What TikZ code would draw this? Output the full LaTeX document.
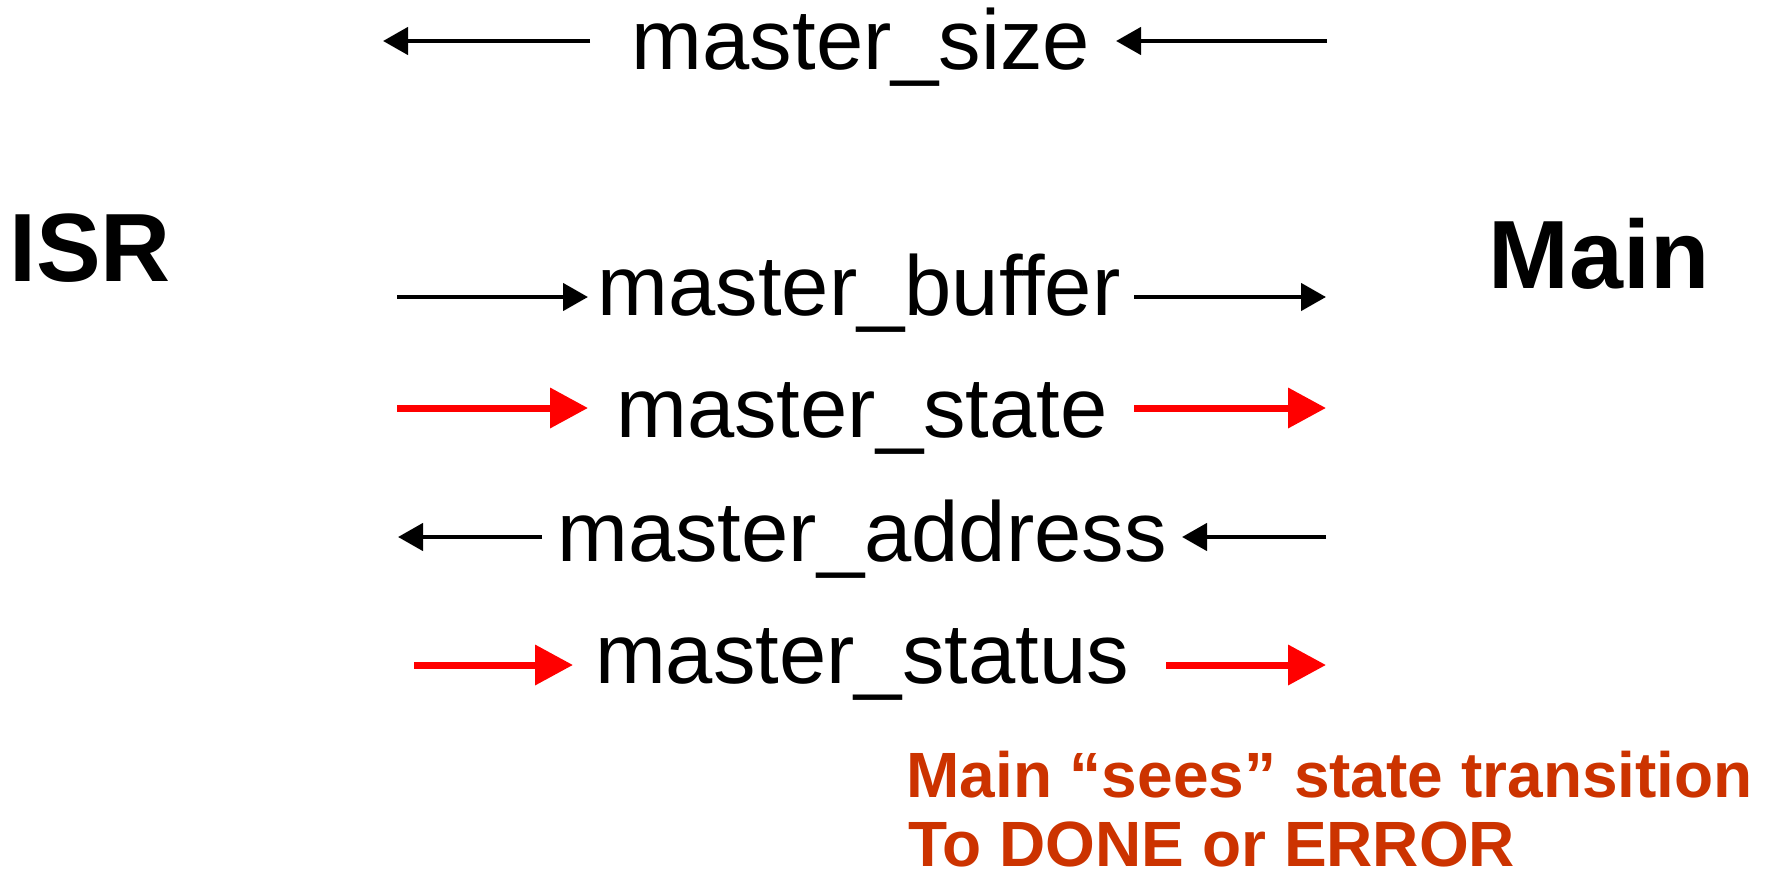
\documentclass[tikz,border=0pt]{standalone}
\usepackage{fontspec}
\setmainfont{Liberation Sans}
\usetikzlibrary{arrows.meta}
\definecolor{notered}{RGB}{204,51,0}
\begin{document}
\begin{tikzpicture}[x=0.5pt,y=-0.5pt,
  lbl/.style={inner sep=0pt,anchor=base,font=\fontsize{42.5pt}{48pt}\selectfont},
  side/.style={inner sep=0pt,anchor=base,font=\fontsize{48.5pt}{54pt}\selectfont\bfseries},
  note/.style={inner sep=0pt,anchor=base west,text=notered,font=\fontsize{32pt}{38pt}\selectfont\bfseries},
  blk/.style={line width=2.25pt,-{Triangle[length=12.5pt,width=13.5pt]}},
  redarr/.style={red,line width=3.5pt,-{Triangle[length=19pt,width=19.5pt]}}]
\useasboundingbox (0,0) rectangle (1777,878);
% side labels
\node[side] (isr) at (90,281) {ISR};
\node[side] (main) at (1599,288) {Main};
% variable labels
\node[lbl] (size) at (861,69) {master\_size};
\node[lbl] (buffer) at (859,315) {master\_buffer};
\node[lbl] (state) at (862,437) {master\_state};
\node[lbl] (address) at (862,561) {master\_address};
\node[lbl] (status) at (862,683) {master\_status};
% note
\node[note] (note1) at (906,797) {Main “sees” state transition};
\node[note] (note2) at (908,866) {To DONE or ERROR};
% arrow end points
\coordinate (sizeLa) at (590,41);  \coordinate (sizeLb) at (383,41);
\coordinate (sizeRa) at (1327,41); \coordinate (sizeRb) at (1116,41);
\coordinate (bufLa) at (397,297);  \coordinate (bufLb) at (588,297);
\coordinate (bufRa) at (1134,297); \coordinate (bufRb) at (1326,297);
\coordinate (stLa) at (397,408);   \coordinate (stLb) at (588,408);
\coordinate (stRa) at (1134,408);  \coordinate (stRb) at (1326,408);
\coordinate (adLa) at (542,537);   \coordinate (adLb) at (398,537);
\coordinate (adRa) at (1326,537);  \coordinate (adRb) at (1182,537);
\coordinate (stsLa) at (414,665);  \coordinate (stsLb) at (573,665);
\coordinate (stsRa) at (1166,665); \coordinate (stsRb) at (1326,665);
% arrows
\draw[blk] (sizeLa) -- (sizeLb);
\draw[blk] (sizeRa) -- (sizeRb);
\draw[blk] (bufLa) -- (bufLb);
\draw[blk] (bufRa) -- (bufRb);
\draw[redarr] (stLa) -- (stLb);
\draw[redarr] (stRa) -- (stRb);
\draw[blk] (adLa) -- (adLb);
\draw[blk] (adRa) -- (adRb);
\draw[redarr] (stsLa) -- (stsLb);
\draw[redarr] (stsRa) -- (stsRb);
\end{tikzpicture}
\end{document}
